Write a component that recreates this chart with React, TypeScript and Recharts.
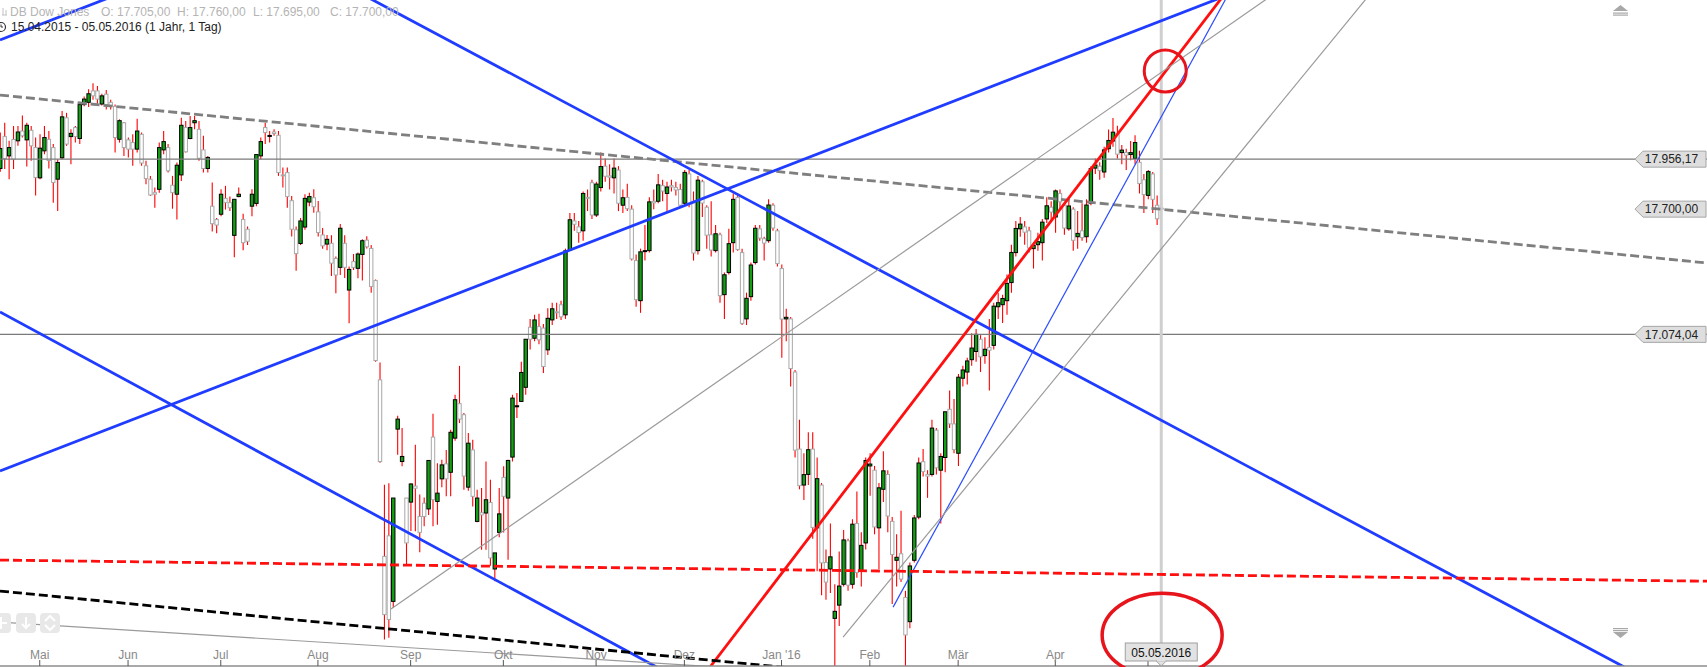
import React from 'react';
import { ComposedChart, Bar, XAxis, YAxis, ReferenceLine, ReferenceDot } from 'recharts';

const W = 1707;
const H = 667;
const AXIS_Y = 666;

// ---- data: daily candles, index 0 = 20.04.2015 ... index 263 = 05.05.2016
const OPEN = [
  17908,18073,17973,18058,18051,18102,18056,18106,18016,17860,
  17999,18059,18016,17853,17963,18171,18073,18120,18063,18240,
  18252,18312,18312,18243,18295,18252,18231,18059,18145,18056,
  18042,18008,18085,17922,17853,17784,17801,18004,18016,17822,
  17776,17875,18120,18063,18145,18111,18004,17908,17715,17647,
  17674,17755,17733,17567,17764,17647,17598,17715,17729,17973,
  18120,18078,18097,18080,17875,17887,17743,17595,17526,17609,
  17736,17758,17686,17569,17523,17527,17451,17406,17527,17293,
  17435,17401,17471,17543,17501,17340,16852,16018,16113,15812,
  16615,16461,16289,16270,16345,16203,16265,16238,16577,16273,
  16379,16450,16410,16572,16737,16684,16340,16516,16180,16220,
  16219,16268,15960,16129,16386,16289,16482,16722,16748,16816,
  17109,17055,17112,17105,16998,17145,17185,17220,17170,17493,
  17640,17610,17590,17760,17835,17670,17810,17920,17870,17860,
  17900,17720,17760,17700,17440,17240,17490,17490,17740,17740,
  17820,17780,17820,17810,17800,17730,17880,17740,17490,17840,
  17710,17570,17490,17570,17270,17380,17530,17760,17480,17150,
  17260,17430,17600,17550,17540,17720,17590,17400,17150,17150,
  16890,16520,16350,16400,16520,16150,16350,15990,15960,15735,
  15795,15890,16090,15890,16170,15950,16080,16440,16420,16150,
  16330,16400,16180,16000,16030,15830,15720,16000,16200,16460,
  16400,16400,16610,16420,16480,16710,16640,16500,16860,16890,
  16950,16990,17050,16970,17010,17020,17210,17220,17240,17330,
  17480,17600,17610,17590,17500,17520,17530,17650,17710,17660,
  17780,17720,17600,17700,17560,17590,17560,17730,17910,17920,
  17890,18010,18050,18090,17990,17990,17980,17960,17940,17850,
  17770,17880,17720,17705,
];
const HIGH = [
  18094,18145,18051,18128,18128,18183,18145,18128,18068,18085,
  18128,18102,18034,17956,18206,18197,18111,18128,18249,18283,
  18321,18352,18338,18297,18317,18266,18240,18163,18149,18068,
  18085,18166,18094,17948,17870,17810,18042,18102,18034,17870,
  17939,18171,18154,18180,18180,18154,18077,17973,17836,17655,
  17801,17819,17764,17750,17810,17676,17612,17801,17982,18068,
  18145,18102,18111,18102,17913,17913,17767,17612,17655,17776,
  17784,17801,17741,17604,17569,17568,17460,17624,17568,17410,
  17473,17480,17547,17563,17518,17345,16936,16351,16359,16289,
  16679,16620,16289,16359,16540,16305,16292,16466,16689,16453,
  16469,16516,16612,16780,16920,16692,16597,16564,16328,16336,
  16461,16375,16034,16336,16438,16469,16780,16788,16940,17050,
  17150,17170,17175,17125,17203,17230,17230,17240,17500,17680,
  17680,17640,17790,17800,17850,17840,17990,17960,17930,17960,
  17920,17800,17830,17720,17470,17500,17620,17760,17800,17880,
  17850,17840,17850,17840,17830,17900,17900,17790,17870,17850,
  17720,17740,17620,17580,17380,17600,17780,17780,17500,17280,
  17430,17620,17620,17560,17750,17730,17600,17420,17200,17160,
  16900,16660,16500,16600,16600,16480,16360,16050,16170,15890,
  16040,16140,16100,16190,16320,16130,16480,16500,16440,16360,
  16510,16420,16200,16120,16230,15860,15990,16210,16480,16520,
  16420,16660,16620,16500,16700,16800,16760,16880,16920,16960,
  17080,17100,17070,17060,17150,17230,17280,17270,17370,17520,
  17640,17660,17640,17610,17530,17580,17650,17760,17740,17800,
  17800,17730,17740,17710,17690,17730,17750,17920,17960,17940,
  18020,18110,18170,18130,18030,18010,18050,18080,18000,17880,
  17900,17890,17770,17760,
];
const LOW = [
  17891,17905,17853,17905,18025,18068,17918,17948,17770,17853,
  17982,17908,17733,17690,17956,18025,17930,18042,18034,18231,
  18228,18266,18245,18235,18214,18214,17991,18042,17973,17965,
  17922,17991,17922,17827,17767,17707,17784,17982,17887,17702,
  17647,17844,17991,18059,18111,17948,17887,17887,17586,17578,
  17664,17698,17690,17457,17760,17492,17518,17664,17715,17956,
  18034,18042,18077,17870,17810,17707,17561,17389,17518,17595,
  17715,17681,17561,17500,17492,17363,17277,17368,17353,17129,
  17393,17352,17340,17501,17280,16940,16455,15640,15648,15782,
  16493,16438,15980,16135,16134,16037,16157,16210,16157,16164,
  16340,16297,16297,16560,16644,16328,16323,16250,16176,16049,
  16049,15975,15904,16106,16128,16003,16461,16668,16745,16780,
  17000,17040,17025,16885,16973,17120,17150,17145,17150,17488,
  17590,17530,17540,17690,17650,17660,17790,17840,17800,17780,
  17690,17680,17690,17440,17210,17180,17440,17480,17700,17730,
  17740,17680,17790,17770,17710,17720,17710,17440,17470,17660,
  17500,17460,17480,17230,17150,17370,17480,17490,17120,17120,
  17240,17420,17540,17440,17530,17590,17410,16960,17040,16820,
  16480,16330,16280,16350,16100,15950,15840,15820,15850,15450,
  15700,15880,15860,15870,15920,15880,16050,16300,16120,15960,
  16270,16130,15800,15880,15900,15500,15690,15990,16190,16390,
  16290,16390,16400,16170,16410,16620,16500,16440,16820,16830,
  16920,16940,16890,16930,16800,17000,17150,17130,17170,17280,
  17460,17560,17520,17480,17400,17490,17440,17630,17640,17580,
  17700,17570,17590,17490,17500,17540,17530,17720,17880,17850,
  17860,17990,18020,17960,17930,17900,17950,17930,17780,17680,
  17750,17680,17620,17695,
];
const CLOSE = [
  18011,17960,18016,17956,18097,18077,18132,18025,17862,18013,
  18068,17949,17836,17939,18176,18034,18090,18073,18240,18269,
  18297,18286,18269,18286,18240,18231,18068,18156,18016,18008,
  18008,18102,17936,17856,17772,17776,18016,18047,17896,17784,
  17925,18132,17994,18120,18156,17961,17908,17965,17626,17619,
  17776,17733,17707,17750,17776,17530,17537,17776,17980,18047,
  18094,18079,18089,17887,17870,17764,17598,17475,17640,17755,
  17764,17712,17581,17514,17547,17427,17368,17603,17406,17396,
  17406,17473,17540,17509,17310,16946,16461,15752,15730,16289,
  16663,16485,16080,16355,16335,16129,16203,16466,16281,16312,
  16445,16379,16600,16756,16663,16392,16548,16297,16289,16210,
  16281,16011,16034,16215,16297,16466,16764,16727,16888,17050,
  17050,17145,17047,16917,17153,17200,17180,17160,17489,17646,
  17623,17581,17780,17756,17670,17828,17918,17868,17863,17910,
  17730,17758,17702,17448,17245,17484,17490,17737,17732,17824,
  17792,17813,17813,17798,17720,17888,17730,17478,17848,17731,
  17568,17493,17575,17265,17369,17525,17750,17496,17128,17252,
  17418,17603,17553,17528,17721,17604,17425,17149,17158,16907,
  16515,16347,16399,16517,16152,16380,15988,15900,16016,15767,
  15882,16094,15886,16167,15944,16069,16466,16449,16154,16337,
  16417,16205,16027,16014,15914,15660,15974,16196,16454,16413,
  16392,16620,16431,16485,16698,16640,16517,16865,16900,16944,
  17007,17074,16964,17001,16996,17213,17230,17251,17326,17481,
  17602,17624,17583,17503,17516,17535,17634,17717,17685,17793,
  17737,17604,17716,17542,17577,17556,17721,17908,17926,17897,
  18004,18053,18096,17982,18003,17977,17990,18042,17831,17774,
  17892,17750,17651,17700,
];

const MONTH_TICKS = [9, 29, 50, 72, 93, 114, 135, 155, 177, 197, 217, 239, 260];
const MONTH_LABELS = ['Mai', 'Jun', 'Jul', 'Aug', 'Sep', 'Okt', 'Nov', 'Dez', "Jan '16", 'Feb', 'Mär', 'Apr', ''];
const LAST_INDEX = 263;
const LAST_DATE = '05.05.2016';
const X_DOMAIN = [0, 386.6];
const Y_DOMAIN = [15521, 18797];
const Y_TICKS = [15600, 15800, 16000, 16200, 16400, 16600, 16800, 17000, 17200, 17400, 17600, 17800, 18000, 18200, 18400, 18600, 18800];
const H_LINES = [17956.17, 17074.04];
const LAST_PRICE = 17700;

// trend lines drawn by the analyst: [index, price] -> [index, price]
const TREND_POINTS = [
  [[0, 18290], [386.6, 17428]],
  [[0, 16416], [386.6, 19857]],
  [[0, 18582], [67.95, 19214]],
  [[67.95, 19008], [386.6, 15321]],
  [[0, 17184], [158.55, 15412]],
  [[158.55, 15458], [280.86, 18939]],
  [[202.27, 15786], [280.86, 18945]],
  [[88.56, 15777], [294.45, 18929]],
  [[190.94, 15650], [317.1, 19029]],
  [[0, 15718], [163.08, 15516]],
  [[0, 15859], [181.2, 15508]],
  [[0, 16001], [386.6, 15904]],
];
const TREND_STYLE = [
  { c: '#7f7f7f', w: 2.8, d: '9 4' },
  { c: '#1f3cff', w: 2.8 },
  { c: '#1f3cff', w: 2.8 },
  { c: '#1f3cff', w: 2.8 },
  { c: '#1f3cff', w: 2.8 },
  { c: '#ff1010', w: 2.8 },
  { c: '#2a4cff', w: 1.2 },
  { c: '#9a9a9a', w: 1.2 },
  { c: '#9a9a9a', w: 1.2 },
  { c: '#9a9a9a', w: 1.2 },
  { c: '#000000', w: 2.8, d: '9 4' },
  { c: '#ff1010', w: 2.8, d: '9 4' },
];
const CIRCLE_TOP = [263.9, 18417];
const CIRCLE_BOTTOM = [263.2, 15659];

const data = OPEN.map((o, i) => ({
  i,
  o,
  h: HIGH[i],
  l: LOW[i],
  c: CLOSE[i],
  range: [LOW[i], HIGH[i]],
}));

const FONT = 'Arial, "Liberation Sans", sans-serif';

function fmtDE(v: number) {
  const [int, dec] = v.toFixed(2).split('.');
  return int.replace(/\B(?=(\d{3})+(?!\d))/g, '.') + ',' + dec;
}

function Candle(props: any) {
  const { x, y, width, height, payload } = props;
  if (x == null || y == null || !payload) return null;
  const top0 = Math.min(y, y + height);
  const hh = Math.abs(height);
  const cx = x + width / 2;
  const { o, h, l, c } = payload;
  const lh = Math.log(h);
  const span = lh - Math.log(l) || 1e-9;
  const yOf = (v: number) => top0 + (hh * (lh - Math.log(v))) / span;
  const up = c >= o;
  const bt = yOf(Math.max(o, c));
  const bb = yOf(Math.min(o, c));
  return (
    <g>
      <line x1={cx} x2={cx} y1={top0} y2={top0 + hh} stroke="#ff0000" strokeWidth={1.1} />
      <rect
        x={cx - 1.7}
        y={bt}
        width={3.4}
        height={Math.max(bb - bt, 1)}
        fill={up ? '#12a012' : '#ffffff'}
        stroke={up ? '#000000' : '#a8a8a8'}
        strokeWidth={1}
      />
    </g>
  );
}

function XTick(props: any) {
  const { x, payload } = props;
  const v = payload.value;
  if (v === LAST_INDEX) {
    const bw = 72;
    return (
      <g>
        <rect x={x - bw / 2} y={643} width={bw} height={18} fill="#e2e2e2" stroke="#a0a0a0" strokeWidth={1} />
        <path d={`M ${x - 5} ${661} L ${x} ${666} L ${x + 5} ${661} Z`} fill="#e2e2e2" stroke="#a0a0a0" strokeWidth={1} />
        <rect x={x - 4.4} y={659} width={8.8} height={2.5} fill="#e2e2e2" />
        <text x={x} y={656.5} textAnchor="middle" fontSize={12} fontFamily={FONT} fill="#111">
          {LAST_DATE}
        </text>
      </g>
    );
  }
  const k = MONTH_TICKS.indexOf(v);
  return (
    <g>
      <line x1={x} x2={x} y1={AXIS_Y - 6} y2={AXIS_Y} stroke="#555" strokeWidth={1} />
      {MONTH_LABELS[k] ? (
        <text x={x} y={AXIS_Y - 7.5} textAnchor="middle" fontSize={12} fontFamily={FONT} fill="#888">
          {MONTH_LABELS[k]}
        </text>
      ) : null}
    </g>
  );
}

function YTick(props: any) {
  const { y, payload } = props;
  return (
    <g>
      <text x={W - 9} y={y + 4.3} textAnchor="end" fontSize={12} fontFamily={FONT} fill="#8a8a8a">
        {fmtDE(payload.value)}
      </text>
      <line x1={W - 7} x2={W - 2} y1={y + 0.5} y2={y + 0.5} stroke="#333" strokeWidth={1.3} />
    </g>
  );
}

function PriceTag(props: any) {
  const { cy, text } = props;
  if (cy == null) return null;
  const right = W - 1;
  const left = W - 64;
  const tip = left - 8;
  return (
    <g>
      <path
        d={`M ${tip} ${cy} L ${left} ${cy - 8} L ${right} ${cy - 8} L ${right} ${cy + 8} L ${left} ${cy + 8} Z`}
        fill="#dedede"
        stroke="#a6a6a6"
        strokeWidth={1}
      />
      <text x={(left + right) / 2 - 3} y={cy + 4.3} textAnchor="middle" fontSize={12} fontFamily={FONT} fill="#222">
        {text}
      </text>
    </g>
  );
}

function Overlay() {
  return (
    <svg width={W} height={H} style={{ position: 'absolute', left: 0, top: 0, pointerEvents: 'none' }}>
      <path d="M 3 8 L 3 15 M 6 10 L 6 15 M 2 15 L 7 15" stroke="#c0c0c0" strokeWidth={1} fill="none" />
      <text x={10} y={15.5} fontSize={12} fontFamily={FONT} fill="#b4b4b4">DB Dow Jones</text>
      <text x={101} y={15.5} fontSize={12} fontFamily={FONT} fill="#b4b4b4">O: 17.705,00</text>
      <text x={177} y={15.5} fontSize={12} fontFamily={FONT} fill="#b4b4b4">H: 17.760,00</text>
      <text x={253} y={15.5} fontSize={12} fontFamily={FONT} fill="#b4b4b4">L: 17.695,00</text>
      <text x={330} y={15.5} fontSize={12} fontFamily={FONT} fill="#b4b4b4">C: 17.700,00</text>
      <circle cx={1} cy={27} r={4.5} fill="none" stroke="#333" strokeWidth={1.2} />
      <path d="M 1 24.5 L 1 27 L 3 27" stroke="#333" strokeWidth={1} fill="none" />
      <text x={11} y={30.5} fontSize={12} fontFamily={FONT} fill="#222">15.04.2015 - 05.05.2016 (1 Jahr, 1 Tag)</text>
      <path d="M 1613 11 L 1628 11 L 1620.5 5 Z" fill="#a8a8a8" />
      <rect x={1613} y={12.5} width={15} height={1.2} fill="#a8a8a8" />
      <rect x={1613} y={14.5} width={15} height={1.2} fill="#a8a8a8" />
      <rect x={1613} y={628} width={15} height={1.2} fill="#a8a8a8" />
      <rect x={1613} y={630} width={15} height={1.2} fill="#a8a8a8" />
      <path d="M 1613 632 L 1628 632 L 1620.5 638 Z" fill="#a8a8a8" />
      <rect x={-9} y={613} width={20} height={20} rx={4} fill="#e8e8e8" />
      <rect x={16} y={613} width={20} height={20} rx={4} fill="#e8e8e8" />
      <rect x={40} y={613} width={20} height={20} rx={4} fill="#e8e8e8" />
      <path d="M 1 617 L 1 629 M -5 623 L 7 623" stroke="#fff" strokeWidth={2} />
      <path d="M 26 617 L 26 627 M 22 624 L 26 628 L 30 624" stroke="#fff" strokeWidth={2} fill="none" />
      <path d="M 45 621 L 50 616 L 55 621 M 45 625 L 50 630 L 55 625" stroke="#fff" strokeWidth={2} fill="none" />
    </svg>
  );
}

export default function App() {
  return (
    <div style={{ position: 'absolute', left: 0, top: 0, width: W, height: H, background: '#fff' }}>
      <ComposedChart width={W} height={H} data={data} margin={{ top: 0, right: 0, bottom: 0, left: 0 }}>
        <XAxis
          dataKey="i"
          type="number"
          domain={X_DOMAIN}
          allowDataOverflow
          ticks={[...MONTH_TICKS, LAST_INDEX]}
          interval={0}
          tick={<XTick />}
          tickLine={false}
          axisLine={{ stroke: '#8c8c8c', strokeWidth: 1.5 }}
          height={1}
        />
        <YAxis
          orientation="right"
          mirror
          scale="log"
          domain={Y_DOMAIN}
          allowDataOverflow
          ticks={Y_TICKS}
          interval={0}
          tick={<YTick />}
          tickLine={false}
          axisLine={false}
          width={0}
        />
        {H_LINES.map((v) => (
          <ReferenceLine key={'h' + v} y={v} stroke="#7a7a7a" strokeWidth={1.2} ifOverflow="hidden" />
        ))}
        <ReferenceLine x={LAST_INDEX} stroke="#cfcfcf" strokeWidth={3} ifOverflow="hidden" />
        <Bar dataKey="range" shape={<Candle />} isAnimationActive={false} barSize={3} />
        {TREND_POINTS.map((seg, k) => (
          <ReferenceLine
            key={'t' + k}
            segment={[{ x: seg[0][0], y: seg[0][1] }, { x: seg[1][0], y: seg[1][1] }]}
            stroke={TREND_STYLE[k].c}
            strokeWidth={TREND_STYLE[k].w}
            strokeDasharray={TREND_STYLE[k].d}
            ifOverflow="hidden"
          />
        ))}
        <ReferenceDot
          x={CIRCLE_TOP[0]}
          y={CIRCLE_TOP[1]}
          r={21}
          fill="none"
          stroke="#e8141c"
          strokeWidth={3}
          ifOverflow="visible"
        />
        <ReferenceDot
          x={CIRCLE_BOTTOM[0]}
          y={CIRCLE_BOTTOM[1]}
          r={1}
          ifOverflow="visible"
          shape={(p: any) => (
            <ellipse cx={p.cx} cy={p.cy} rx={60} ry={42} fill="none" stroke="#e8141c" strokeWidth={3.5} />
          )}
        />
        {H_LINES.map((v) => (
          <ReferenceDot
            key={'p' + v}
            x={X_DOMAIN[1]}
            y={v}
            r={1}
            ifOverflow="visible"
            shape={(p: any) => <PriceTag cy={p.cy} text={fmtDE(v)} />}
          />
        ))}
        <ReferenceDot
          x={X_DOMAIN[1]}
          y={LAST_PRICE}
          r={1}
          ifOverflow="visible"
          shape={(p: any) => <PriceTag cy={p.cy} text={fmtDE(LAST_PRICE)} />}
        />
      </ComposedChart>
      <Overlay />
    </div>
  );
}
